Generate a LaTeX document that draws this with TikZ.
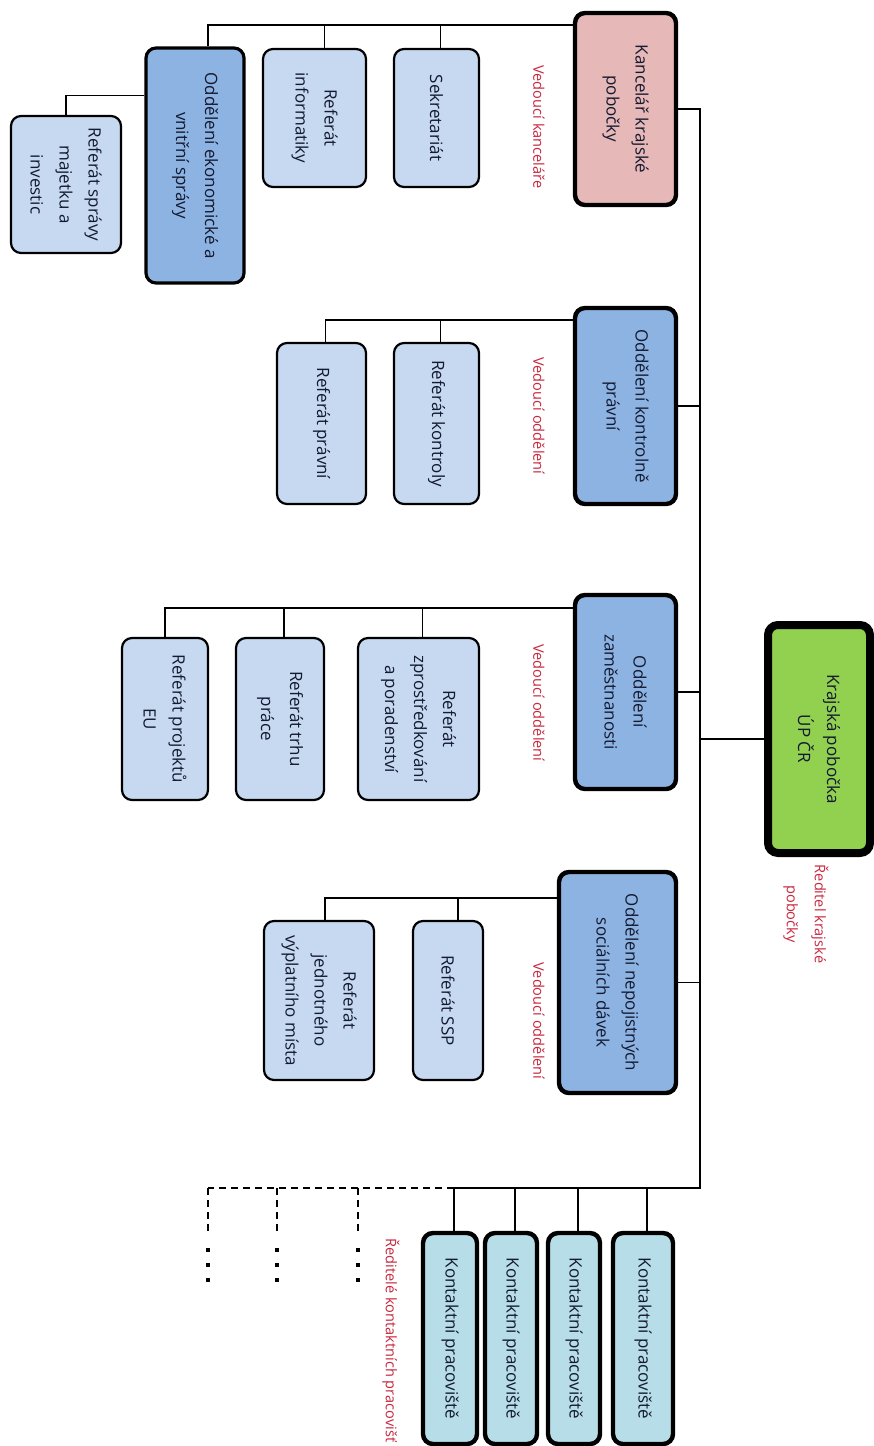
\documentclass[tikz,border=0pt]{standalone}
\usepackage{fontspec}
\setmainfont{Open Sans}
\definecolor{subfill}{HTML}{C6D9F1}
\definecolor{deptfill}{HTML}{8DB3E2}
\definecolor{kancfill}{HTML}{E6B8B7}
\definecolor{uradfill}{HTML}{92D050}
\definecolor{contfill}{HTML}{B7DEE8}
\definecolor{bossred}{HTML}{C8283F}
\definecolor{boxtext}{HTML}{141A30}
\begin{document}
\begin{tikzpicture}[x=0.5pt, y=-0.5pt,
  box/.style={draw, rounded corners=5pt, rotate=-90, align=center, text=boxtext, font=\fontsize{8.5}{14.5}\selectfont, inner sep=2pt},
  subunit/.style={box, fill=subfill, line width=1.1pt},
  dept/.style={box, fill=deptfill, line width=2.2pt},
  contact/.style={box, fill=contfill, line width=2.2pt, minimum width=105.5pt},
  boss/.style={rotate=-90, text=bossred, font=\fontsize{7.3}{14}\selectfont, align=center, inner sep=0pt},
  conn/.style={line width=0.7pt},
  dashline/.style={line width=0.7pt, dash pattern=on 3.5pt off 2.5pt},
  dotline/.style={line width=1.6pt, dash pattern=on 2pt off 5.5pt}]

\path[use as bounding box, fill=white] (0,0) rectangle (873,1446);

\node[dept, fill=kancfill, minimum width=96pt, minimum height=50.5pt] (kanc) at (625.5,109) {Kancelář krajské\\pobočky};
\node[subunit, minimum width=69pt, minimum height=42.5pt] (sekr) at (436.5,118) {Sekretariát};
\node[subunit, minimum width=69pt, minimum height=51.5pt] (rinf) at (314.5,118) {Referát\\informatiky};
\node[dept, line width=1.6pt, minimum width=117.5pt, minimum height=49pt] (oek) at (195,165.5) {Oddělení ekonomické a\\vnitřní správy};
\node[subunit, minimum width=68.5pt, minimum height=55pt] (rsm) at (66,184.5) {Referát správy\\majetku a\\investic};

\node[dept, minimum width=98pt, minimum height=50.5pt] (kontrol) at (625.5,406) {Oddělení kontrolně\\právní};
\node[subunit, minimum width=80.5pt, minimum height=42.5pt] (rkon) at (436.5,423.5) {Referát kontroly};
\node[subunit, minimum width=80.5pt, minimum height=44.5pt] (rprav) at (321.5,423.5) {Referát právní};

\node[dept, minimum width=97pt, minimum height=50.5pt] (zam) at (625.5,692) {Oddělení\\zaměstnanosti};
\node[subunit, minimum width=81pt, minimum height=60.5pt] (rzpr) at (418.5,719) {Referát\\zprostředkování\\a poradenství};
\node[subunit, minimum width=81pt, minimum height=44pt] (rtrh) at (280,719) {Referát trhu\\práce};
\node[subunit, minimum width=81pt, minimum height=43pt] (reu) at (165,719) {Referát projektů\\EU};

\node[box, fill=uradfill, line width=4pt, minimum width=114pt, minimum height=51pt] (urad) at (819,739) {Krajská pobočka\\ÚP ČR};

\node[dept, minimum width=110.5pt, minimum height=58.5pt] (nepoj) at (617.5,982.5) {Oddělení nepojistných\\sociálních dávek};
\node[subunit, minimum width=79.5pt, minimum height=35pt] (rssp) at (448,1000.5) {Referát SSP};
\node[subunit, minimum width=79.5pt, minimum height=55pt] (rjvm) at (319,1000.5) {Referát\\jednotného\\výplatního místa};

\node[contact, minimum height=27pt] (c1) at (450,1338.5) {Kontaktní pracoviště};
\node[contact, minimum height=26pt] (c2) at (511,1338.5) {Kontaktní pracoviště};
\node[contact, minimum height=26pt] (c3) at (574,1338.5) {Kontaktní pracoviště};
\node[contact, minimum height=30pt] (c4) at (643,1338.5) {Kontaktní pracoviště};

\node[boss] (vkanc) at (539,127) {Vedoucí kanceláře};
\node[boss] (vkon) at (539,416) {Vedoucí oddělení};
\node[boss] (vzam) at (539,703) {Vedoucí oddělení};
\node[boss] (vnep) at (539,1021) {Vedoucí oddělení};
\node[boss] (vred) at (806,914) {Ředitel krajské\\pobočky};
\node[boss, anchor=west] (vkp) at (391,1238) {Ředitelé kontaktních pracovišť};

\coordinate (bus) at (700,1188);
\draw[conn] (kanc.north) -| (bus) -- (c1.west |- bus);
\foreach \n in {kontrol,zam,nepoj} \draw[conn] (\n.north) -- (\n.north -| bus);
\draw[conn] (urad.south) -- (urad.south -| bus);
\foreach \n in {c1,c2,c3,c4} \draw[conn] ([xshift=2pt]\n.west) -- ([xshift=2pt]\n.west |- bus);

\draw[conn] ([yshift=-7pt]kanc.south west) coordinate (kb) -| ([xshift=6.5pt]oek.west);
\draw[conn] ([xshift=2pt]sekr.west) -- ([xshift=2pt]sekr.west |- kb);
\draw[conn] ([xshift=5pt]rinf.west) -- ([xshift=5pt]rinf.west |- kb);
\draw[conn] ([yshift=-24.5pt]oek.south west) -| (rsm.west);

\draw[conn] ([yshift=-7pt]kontrol.south west) coordinate (kob) -| ([xshift=2pt]rprav.west);
\draw[conn] ([xshift=2pt]rkon.west) -- ([xshift=2pt]rkon.west |- kob);

\draw[conn] ([yshift=-7.5pt]zam.south west) coordinate (zb) -| (reu.west);
\foreach \n in {rzpr,rtrh} \draw[conn] ([xshift=2pt]\n.west) -- ([xshift=2pt]\n.west |- zb);

\draw[conn] ([yshift=-14pt]nepoj.south west) coordinate (nb) -| ([xshift=3pt]rjvm.west);
\draw[conn] ([xshift=5pt]rssp.west) -- ([xshift=5pt]rssp.west |- nb);

\foreach \x [count=\i] in {358,277,208} {
  \coordinate (more\i) at (\x,1232);
  \draw[dashline] (more\i |- bus) -- (more\i);
  \draw[dotline] ([yshift=-8pt]more\i) -- ++(0,36);
}
\draw[dashline] ([xshift=2pt]c1.west |- bus) -- (more3 |- bus);

\end{tikzpicture}
\end{document}
